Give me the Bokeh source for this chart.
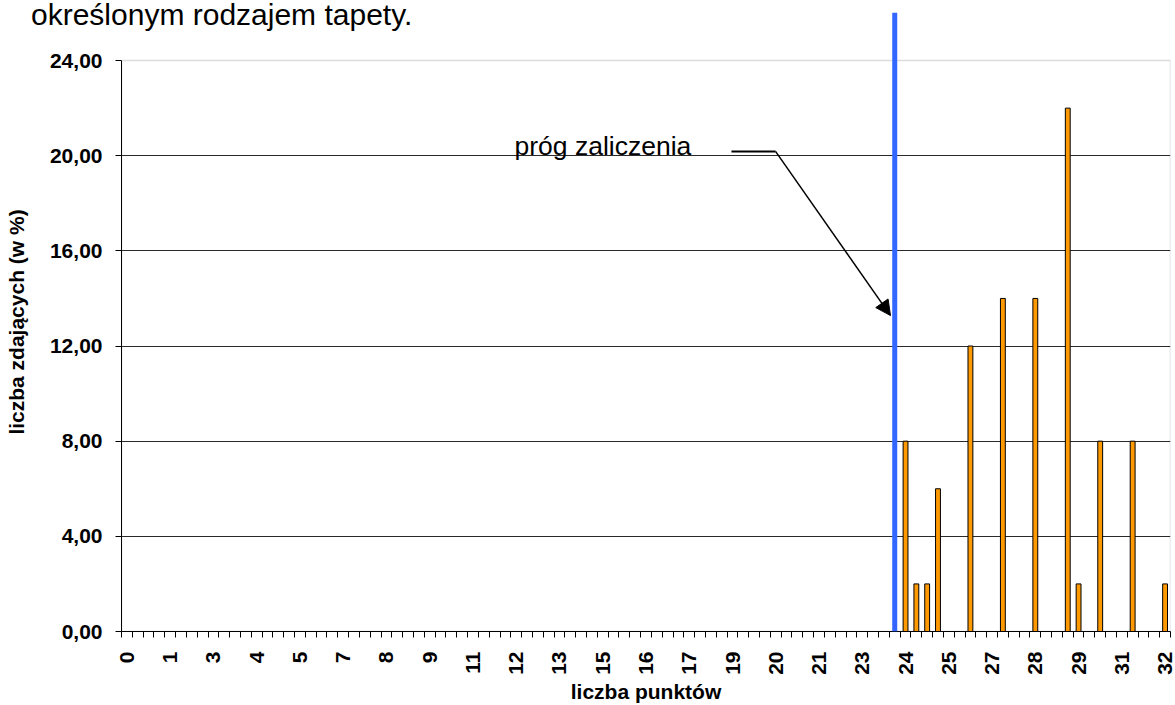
import math
from bokeh.plotting import figure
from bokeh.layouts import column
from bokeh.models import (FixedTicker, Arrow, NormalHead, Label, ColumnDataSource,
                          Range1d, Span, BoxAnnotation, Div)
from bokeh.embed import file_html
from bokeh.resources import INLINE

# ---- data -------------------------------------------------------------
# x axis: scores 0 .. 32 points in steps of 1/3 point -> 97 categories
n_categories = 97
x_tick_labels = ["0", "1", "3", "4", "5", "7", "8", "9", "11", "12", "13", "15",
                 "16", "17", "19", "20", "21", "23", "24", "25", "27", "28", "29",
                 "31", "32"]
label_every = 4  # a label on every 4th category

# bars: category index (score in thirds of a point) and share of students (%)
bar_category = [72, 73, 74, 75, 78, 81, 84, 87, 88, 90, 93, 96]
bar_values = [8, 2, 2, 6, 12, 14, 14, 22, 2, 8, 8, 2]

y_ticks = [0, 4, 8, 12, 16, 20, 24]
y_tick_labels = ["0,00", "4,00", "8,00", "12,00", "16,00", "20,00", "24,00"]
y_max = 24
y_view_top = 26.02  # room above the plot area for the threshold line

threshold_category = 71  # próg zaliczenia

FONT = "Liberation Sans"

# ---- page text above the chart --------------------------------------------
head = Div(
    text=('<div style="font-family: \'Liberation Sans\'; font-size: 30px; '
          'line-height: 1; white-space: nowrap; margin-left: 31px; color: black;">'
          'określonym rodzajem tapety.</div>'),
    width=1175, height=12, margin=0, styles={"overflow": "visible"})

# ---- figure -----------------------------------------------------------
p = figure(width=1175, height=693, output_backend="svg", toolbar_location=None,
           title=None,
           x_range=Range1d(-0.5, n_categories - 0.5), y_range=Range1d(0, y_view_top),
           min_border_left=121, min_border_right=5, min_border_top=0,
           min_border_bottom=74)
p.background_fill_color = None
p.border_fill_color = None
p.outline_line_color = None

# plot-area border (grey)
p.add_layout(BoxAnnotation(left=-0.5, right=n_categories - 0.5, bottom=0, top=y_max,
                           fill_color=None, line_color="#8c8c8c", line_width=1.5,
                           level="underlay"))

src = ColumnDataSource(dict(x=bar_category, top=bar_values))
p.vbar(x="x", top="top", width=0.45, source=src, fill_color="#FF9900",
       line_color="black", line_width=1)

# grid
p.xgrid.visible = False
p.ygrid.ticker = FixedTicker(ticks=[t for t in y_ticks if 0 < t < y_max])
p.ygrid.grid_line_color = "#2a2a2a"
p.ygrid.grid_line_width = 1

# x axis
label_pos = list(range(0, n_categories, label_every))
boundaries = [i - 0.5 for i in range(n_categories + 1)]
xa = p.xaxis[0]
xa.ticker = FixedTicker(ticks=label_pos, minor_ticks=boundaries)
xa.major_label_overrides = {pos: lab for pos, lab in zip(label_pos, x_tick_labels)}
xa.major_tick_line_color = None
xa.major_tick_out = 0
xa.major_tick_in = 0
xa.minor_tick_out = 6
xa.minor_tick_in = 0
xa.minor_tick_line_color = "black"
xa.axis_line_color = "black"
xa.major_label_orientation = math.pi / 2
xa.major_label_standoff = 14
xa.major_label_text_font = FONT
xa.major_label_text_font_style = "bold"
xa.major_label_text_font_size = "21px"
xa.major_label_text_color = "black"
xa.axis_label = "liczba punktów"
xa.axis_label_standoff = 2
xa.axis_label_text_font = FONT
xa.axis_label_text_font_style = "bold"
xa.axis_label_text_font_size = "21px"
xa.axis_label_text_color = "black"

# y axis
ya = p.yaxis[0]
ya.bounds = (0, y_max)
ya.ticker = FixedTicker(ticks=y_ticks, minor_ticks=[])
ya.major_label_overrides = {t: l for t, l in zip(y_ticks, y_tick_labels)}
ya.major_tick_out = 6
ya.major_tick_in = 0
ya.major_tick_line_color = "black"
ya.minor_tick_line_color = None
ya.axis_line_color = "black"
ya.major_label_standoff = 13
ya.major_label_text_font = FONT
ya.major_label_text_font_style = "bold"
ya.major_label_text_font_size = "21px"
ya.major_label_text_color = "black"
ya.axis_label = "liczba zdających (w %)"
ya.axis_label_standoff = 19
ya.axis_label_text_font = FONT
ya.axis_label_text_font_style = "bold"
ya.axis_label_text_font_size = "21px"
ya.axis_label_text_color = "black"

# threshold line
p.add_layout(Span(location=threshold_category, dimension="height",
                  line_color="#3366FF", line_width=5))

# annotation text + arrow
p.add_layout(Label(x=35.84, y=20.39, text="próg zaliczenia", text_font=FONT,
                   text_font_size="26.5px", text_color="black",
                   text_baseline="alphabetic"))
p.add_layout(Arrow(end=None, x_start=55.9, y_start=20.18, x_end=59.98, y_end=20.18,
                   line_color="black", line_width=2))
p.add_layout(Arrow(end=NormalHead(size=15, fill_color="black", line_color="black"),
                   x_start=59.98, y_start=20.18, x_end=70.61, y_end=13.28,
                   line_color="black", line_width=1.5))

layout = column(head, p, spacing=0)
open("out.html", "w").write(file_html(layout, INLINE))
